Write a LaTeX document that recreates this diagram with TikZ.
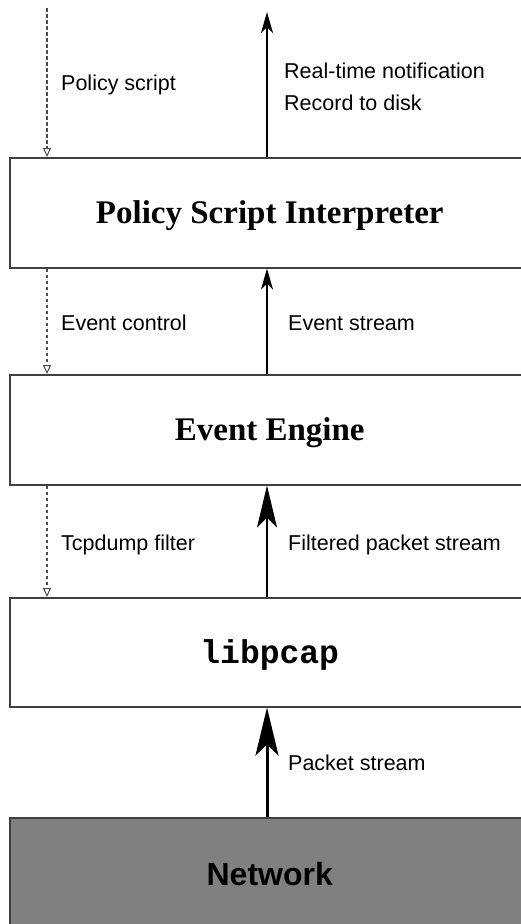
\documentclass[tikz,border=0pt]{standalone}
\usepackage{fontspec}
\setmainfont{Liberation Sans}
\newfontfamily\titlefont{Liberation Serif}
\newfontfamily\codefont{Liberation Mono}
\usetikzlibrary{arrows.meta}
\tikzset{
  layer/.style={draw=black!75, line width=1.5pt, rectangle, anchor=north west,
    minimum width=520pt, inner sep=0pt, text depth=0pt},
  serifttl/.style={font=\titlefont\bfseries\fontsize{33}{38}\selectfont, text height=22pt},
  codettl/.style={font=\codefont\bfseries\fontsize{33}{38}\selectfont, text height=22pt},
  sansttl/.style={font=\bfseries\fontsize{32}{38}\selectfont, text height=23pt},
  lbl/.style={anchor=base west, inner sep=0pt, font=\fontsize{21.5}{24}\selectfont},
  ctl/.style={draw=black!70, line width=1.1pt, dash pattern=on 3.5pt off 2.5pt,
    -{Triangle[open, length=9pt, width=8pt, line width=1pt]}},
  flow/.style={line width=1.8pt, -{Stealth[length=21pt, width=12pt, inset=6pt]}},
  bigflow/.style={line width=1.8pt, -{Stealth[length=42pt, width=20pt, inset=10pt]}},
  netflow/.style={line width=3pt, -{Stealth[length=48pt, width=23pt, inset=11pt]}},
}
\begin{document}
\begin{tikzpicture}[x=1pt,y=-1pt]
\clip (0,0) rectangle (521,924);
\fill[white] (0,0) rectangle (521,924);
% layers
\node[layer, serifttl, minimum height=110pt] (psi) at (9,157) {Policy Script Interpreter};
\node[layer, serifttl, minimum height=110pt] (ee) at (9,374) {Event Engine};
\node[layer, codettl, minimum height=109pt] (lib) at (9,597) {libpcap};
\node[layer, sansttl, fill=black!50, minimum height=113pt] (net) at (9,817) {Network};
% free ends
\coordinate (psin) at (47,8);
\coordinate (rtout) at (267,12);
% connectors
\draw[ctl] (psin) -- (psin |- psi.north);
\draw[flow] (rtout |- psi.north) -- (rtout);
\draw[ctl] (psin |- psi.south) -- (psin |- ee.north);
\draw[flow] (rtout |- ee.north) -- (rtout |- psi.south);
\draw[ctl] (psin |- ee.south) -- (psin |- lib.north);
\draw[bigflow] (rtout |- lib.north) -- (rtout |- ee.south);
\draw[netflow] (rtout |- net.north) -- (rtout |- lib.south);
% labels
\node[lbl] (lps) at (61,90) {Policy script};
\node[lbl] (lrt) at (284,78) {Real-time notification};
\node[lbl] (lrd) at (284,110) {Record to disk};
\node[lbl] (lec) at (61,330) {Event control};
\node[lbl] (les) at (288,330) {Event stream};
\node[lbl] (ltf) at (61,550) {Tcpdump filter};
\node[lbl] (lfp) at (288,550) {Filtered packet stream};
\node[lbl] (lpk) at (288,770) {Packet stream};
\end{tikzpicture}
\end{document}
